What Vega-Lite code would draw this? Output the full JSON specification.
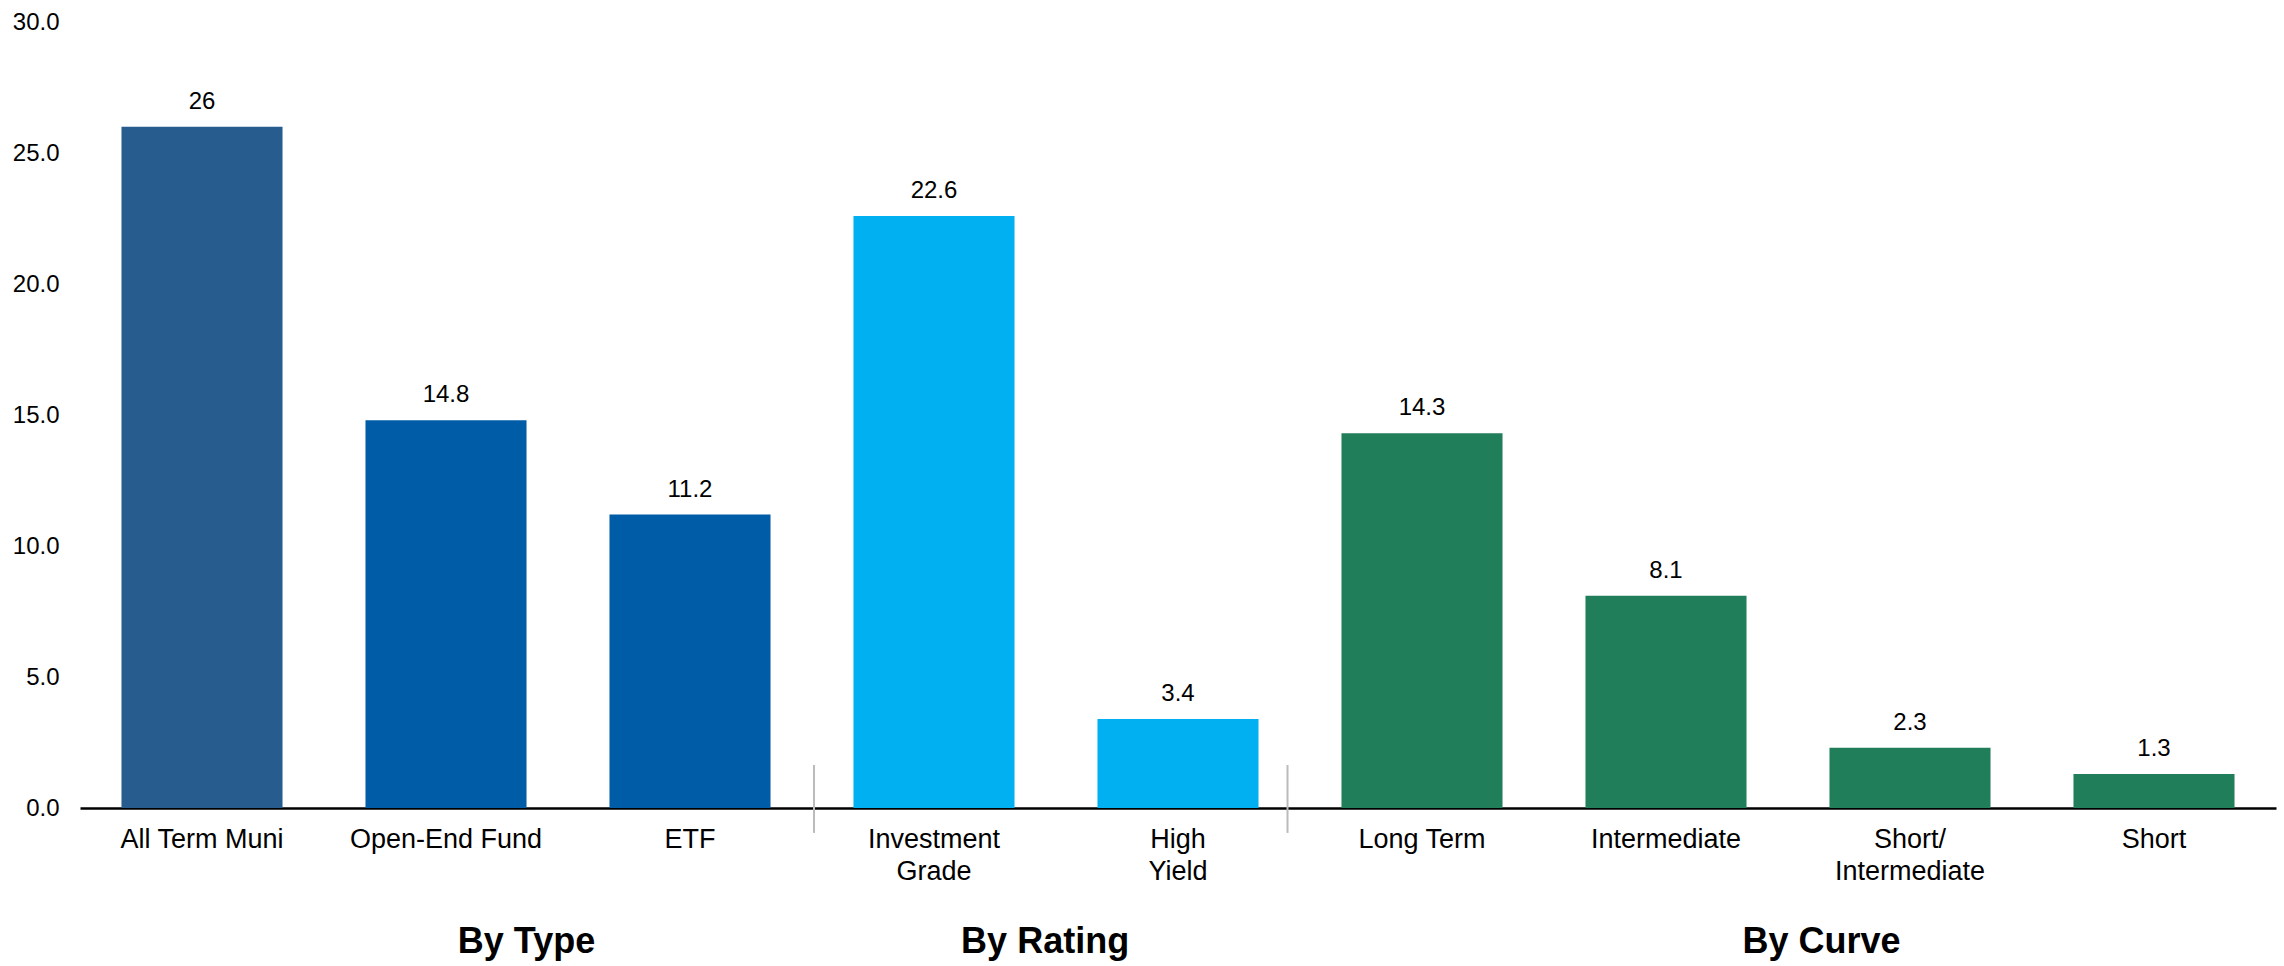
{
  "$schema": "https://vega.github.io/schema/vega-lite/v6.json",
  "width": 2196,
  "height": 786,
  "autosize": {"type": "none"},
  "padding": {"left": 80, "top": 22, "right": 8, "bottom": 158},
  "background": "white",
  "config": {
    "view": {"stroke": null},
    "font": "Liberation Sans",
    "axis": {"labelFont": "Liberation Sans", "labelColor": "#000000"}
  },
  "layer": [
    {
      "data": {"values": [
        {"cat": "All Term Muni", "grp": "Muni", "v": 26},
        {"cat": "Open-End Fund", "grp": "Type", "v": 14.8},
        {"cat": "ETF", "grp": "Type", "v": 11.2},
        {"cat": "Investment Grade", "grp": "Rating", "v": 22.6},
        {"cat": "High Yield", "grp": "Rating", "v": 3.4},
        {"cat": "Long Term", "grp": "Curve", "v": 14.3},
        {"cat": "Intermediate", "grp": "Curve", "v": 8.1},
        {"cat": "Short/Intermediate", "grp": "Curve", "v": 2.3},
        {"cat": "Short", "grp": "Curve", "v": 1.3}
      ]},
      "encoding": {
        "x": {
          "field": "cat", "type": "nominal", "sort": null,
          "scale": {"paddingInner": 0.34, "paddingOuter": 0.17},
          "axis": {
            "title": null, "ticks": false, "labelAngle": 0, "labelLimit": 0,
            "labelFontSize": 27, "labelPadding": 18, "labelLineHeight": 32,
            "domainColor": "#000000", "domainWidth": 2.5,
            "labelExpr": "datum.value == 'Investment Grade' ? ['Investment', 'Grade'] : datum.value == 'High Yield' ? ['High', 'Yield'] : datum.value == 'Short/Intermediate' ? ['Short/', 'Intermediate'] : datum.value"
          }
        },
        "y": {
          "field": "v", "type": "quantitative",
          "scale": {"domain": [0, 30], "nice": false},
          "axis": {
            "title": null, "values": [0, 5, 10, 15, 20, 25, 30], "format": ".1f",
            "grid": false, "ticks": false, "domain": false,
            "labelFontSize": 24, "labelPadding": 21
          }
        }
      },
      "layer": [
        {
          "mark": {"type": "bar"},
          "encoding": {
            "color": {
              "field": "grp", "type": "nominal", "legend": null,
              "scale": {"domain": ["Muni", "Type", "Rating", "Curve"], "range": ["#275C8E", "#005CA6", "#00B0F0", "#207E5A"]}
            }
          }
        },
        {
          "mark": {"type": "text", "baseline": "alphabetic", "dy": -18, "fontSize": 24, "color": "#000000"},
          "encoding": {"text": {"field": "v", "type": "quantitative"}}
        }
      ]
    },
    {
      "data": {"values": [{"cat": "ETF", "top": 1.64, "bot": -0.95}]},
      "mark": {"type": "rule", "color": "#BBBBBB", "strokeWidth": 2},
      "encoding": {
        "x": {"field": "cat", "type": "nominal", "sort": null, "bandPosition": 1.27},
        "y": {"field": "top", "type": "quantitative"},
        "y2": {"field": "bot"}
      }
    },
    {
      "data": {"values": [{"cat": "High Yield", "top": 1.64, "bot": -0.95}]},
      "mark": {"type": "rule", "color": "#BBBBBB", "strokeWidth": 2},
      "encoding": {
        "x": {"field": "cat", "type": "nominal", "sort": null, "bandPosition": 1.18},
        "y": {"field": "top", "type": "quantitative"},
        "y2": {"field": "bot"}
      }
    },
    {
      "data": {"values": [{"cat": "Open-End Fund", "label": "By Type", "y": -5.55}]},
      "mark": {"type": "text", "fontSize": 36, "fontWeight": "bold", "baseline": "alphabetic", "color": "#000000"},
      "encoding": {
        "x": {"field": "cat", "type": "nominal", "sort": null, "bandPosition": 1.0},
        "y": {"field": "y", "type": "quantitative"},
        "text": {"field": "label"}
      }
    },
    {
      "data": {"values": [{"cat": "Investment Grade", "label": "By Rating", "y": -5.55}]},
      "mark": {"type": "text", "fontSize": 36, "fontWeight": "bold", "baseline": "alphabetic", "color": "#000000"},
      "encoding": {
        "x": {"field": "cat", "type": "nominal", "sort": null, "bandPosition": 1.19},
        "y": {"field": "y", "type": "quantitative"},
        "text": {"field": "label"}
      }
    },
    {
      "data": {"values": [{"cat": "Intermediate", "label": "By Curve", "y": -5.55}]},
      "mark": {"type": "text", "fontSize": 36, "fontWeight": "bold", "baseline": "alphabetic", "color": "#000000"},
      "encoding": {
        "x": {"field": "cat", "type": "nominal", "sort": null, "bandPosition": 1.466},
        "y": {"field": "y", "type": "quantitative"},
        "text": {"field": "label"}
      }
    }
  ]
}
